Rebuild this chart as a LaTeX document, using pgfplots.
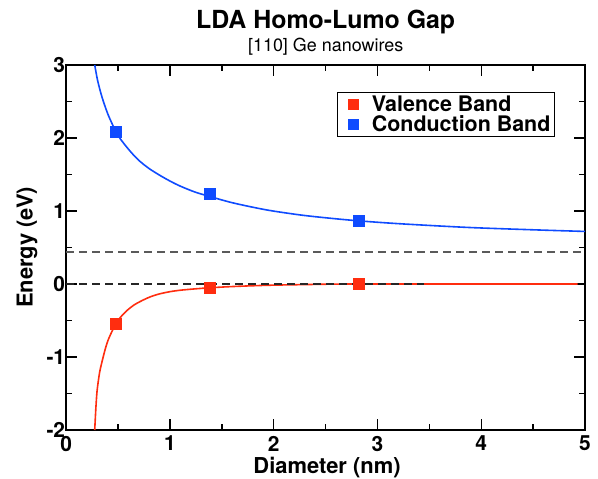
\documentclass[border=0pt]{standalone}
\usepackage{pgfplots}
\pgfplotsset{compat=1.18}
\usepackage{fontspec}
\setmainfont{TeX Gyre Heros}
\definecolor{vred}{RGB}{255,45,15}
\definecolor{cblue}{RGB}{15,75,255}
\definecolor{dgray}{RGB}{90,90,90}
\begin{document}
\begin{tikzpicture}
\useasboundingbox (-66.3bp,-49bp) rectangle (531.7bp,430bp);
\begin{axis}[
  at={(0,0)}, anchor=south west,
  scale only axis, width=518.7bp, height=365bp,
  xmin=0, xmax=5, ymin=-2, ymax=3,
  xtick={0,1,2,3,4,5}, ytick={-2,-1,0,1,2,3},
  minor xtick={0.5,1.5,2.5,3.5,4.5},
  minor ytick={-1.5,-0.5,0.5,1.5,2.5},
  tick align=inside,
  major tick length=11bp, minor tick length=6bp,
  every tick/.append style={black, line width=1.4bp},
  axis line style={line width=1.8bp},
  /pgf/number format/assume math mode=true,
  ticklabel style={font=\bfseries\fontsize{21}{21}\selectfont},
  xticklabel style={yshift=-2.5bp},
  yticklabel style={inner xsep=1bp},
  legend style={at={(axis description cs:0.5213,0.9268)}, anchor=north west,
    draw=black, line width=0.8bp,
    font=\bfseries\fontsize{21.5}{21.5}\selectfont,
    inner xsep=2bp, inner ysep=3bp, row sep=0bp,
    nodes={inner ysep=1bp}},
  legend cell align=left,
  legend image code/.code={\path (0bp,0bp) (30bp,0bp); \draw[#1, mark size=5bp] plot coordinates {(14bp,0bp)};},
  clip=false,
]
% conduction band curve
\addplot[cblue, line width=1.6bp, smooth, tension=0.5, forget plot] coordinates {
(0.274,3.00) (0.30,2.80) (0.33,2.63) (0.36,2.49) (0.40,2.33) (0.44,2.20)
(0.477,2.09) (0.52,1.99) (0.58,1.88) (0.64,1.78) (0.71,1.68) (0.80,1.58)
(0.90,1.49) (1.00,1.41) (1.10,1.34) (1.24,1.26) (1.38,1.20) (1.61,1.11)
(1.93,1.015) (2.26,0.945) (2.55,0.90) (2.82,0.865) (3.22,0.825) (3.87,0.775)
(4.51,0.742) (5.00,0.72)};
% valence band curve
\addplot[vred, line width=1.6bp, smooth, tension=0.5, forget plot] coordinates {
(0.274,-2.00) (0.285,-1.70) (0.297,-1.46) (0.32,-1.22) (0.34,-1.09) (0.37,-0.92)
(0.40,-0.78) (0.44,-0.65) (0.477,-0.55) (0.52,-0.46) (0.58,-0.37) (0.65,-0.29)
(0.74,-0.22) (0.82,-0.17) (0.90,-0.135) (1.00,-0.105) (1.10,-0.085) (1.23,-0.068)
(1.38,-0.052) (1.60,-0.035) (1.93,-0.018) (2.30,-0.008) (2.82,0.0) (4.93,0.0)};
% dashed reference lines
\addplot[dgray, line width=1.4bp, dash pattern=on 8bp off 5bp, forget plot] coordinates {(0,0.44) (5,0.44)};
\addplot[black!85, line width=1.5bp, dash pattern=on 8bp off 5bp, forget plot] coordinates {(0,0) (3.45,0)};
% markers
\addplot[only marks, mark=square*, mark size=5.5bp, color=vred] coordinates {
(0.477,-0.55) (1.38,-0.045) (2.82,0.0)};
\addlegendentry{Valence Band}
\addplot[only marks, mark=square*, mark size=5.5bp, color=cblue] coordinates {
(0.477,2.09) (1.38,1.24) (2.82,0.87)};
\addlegendentry{Conduction Band}
\end{axis}
\node[anchor=base, font=\bfseries\fontsize{25}{25}\selectfont] at (259.35bp,401.7bp) {LDA Homo-Lumo Gap};
\node[anchor=base, font=\fontsize{18}{18}\selectfont] at (259.35bp,378.3bp) {[110] Ge nanowires};
\node[anchor=base, font=\bfseries\fontsize{22}{22}\selectfont] at (260.7bp,-43bp) {Diameter (nm)};
\node[anchor=base, rotate=90, font=\bfseries\fontsize{22}{22}\selectfont] at (-33.6bp,182.5bp) {Energy (eV)};
\end{tikzpicture}
\end{document}
